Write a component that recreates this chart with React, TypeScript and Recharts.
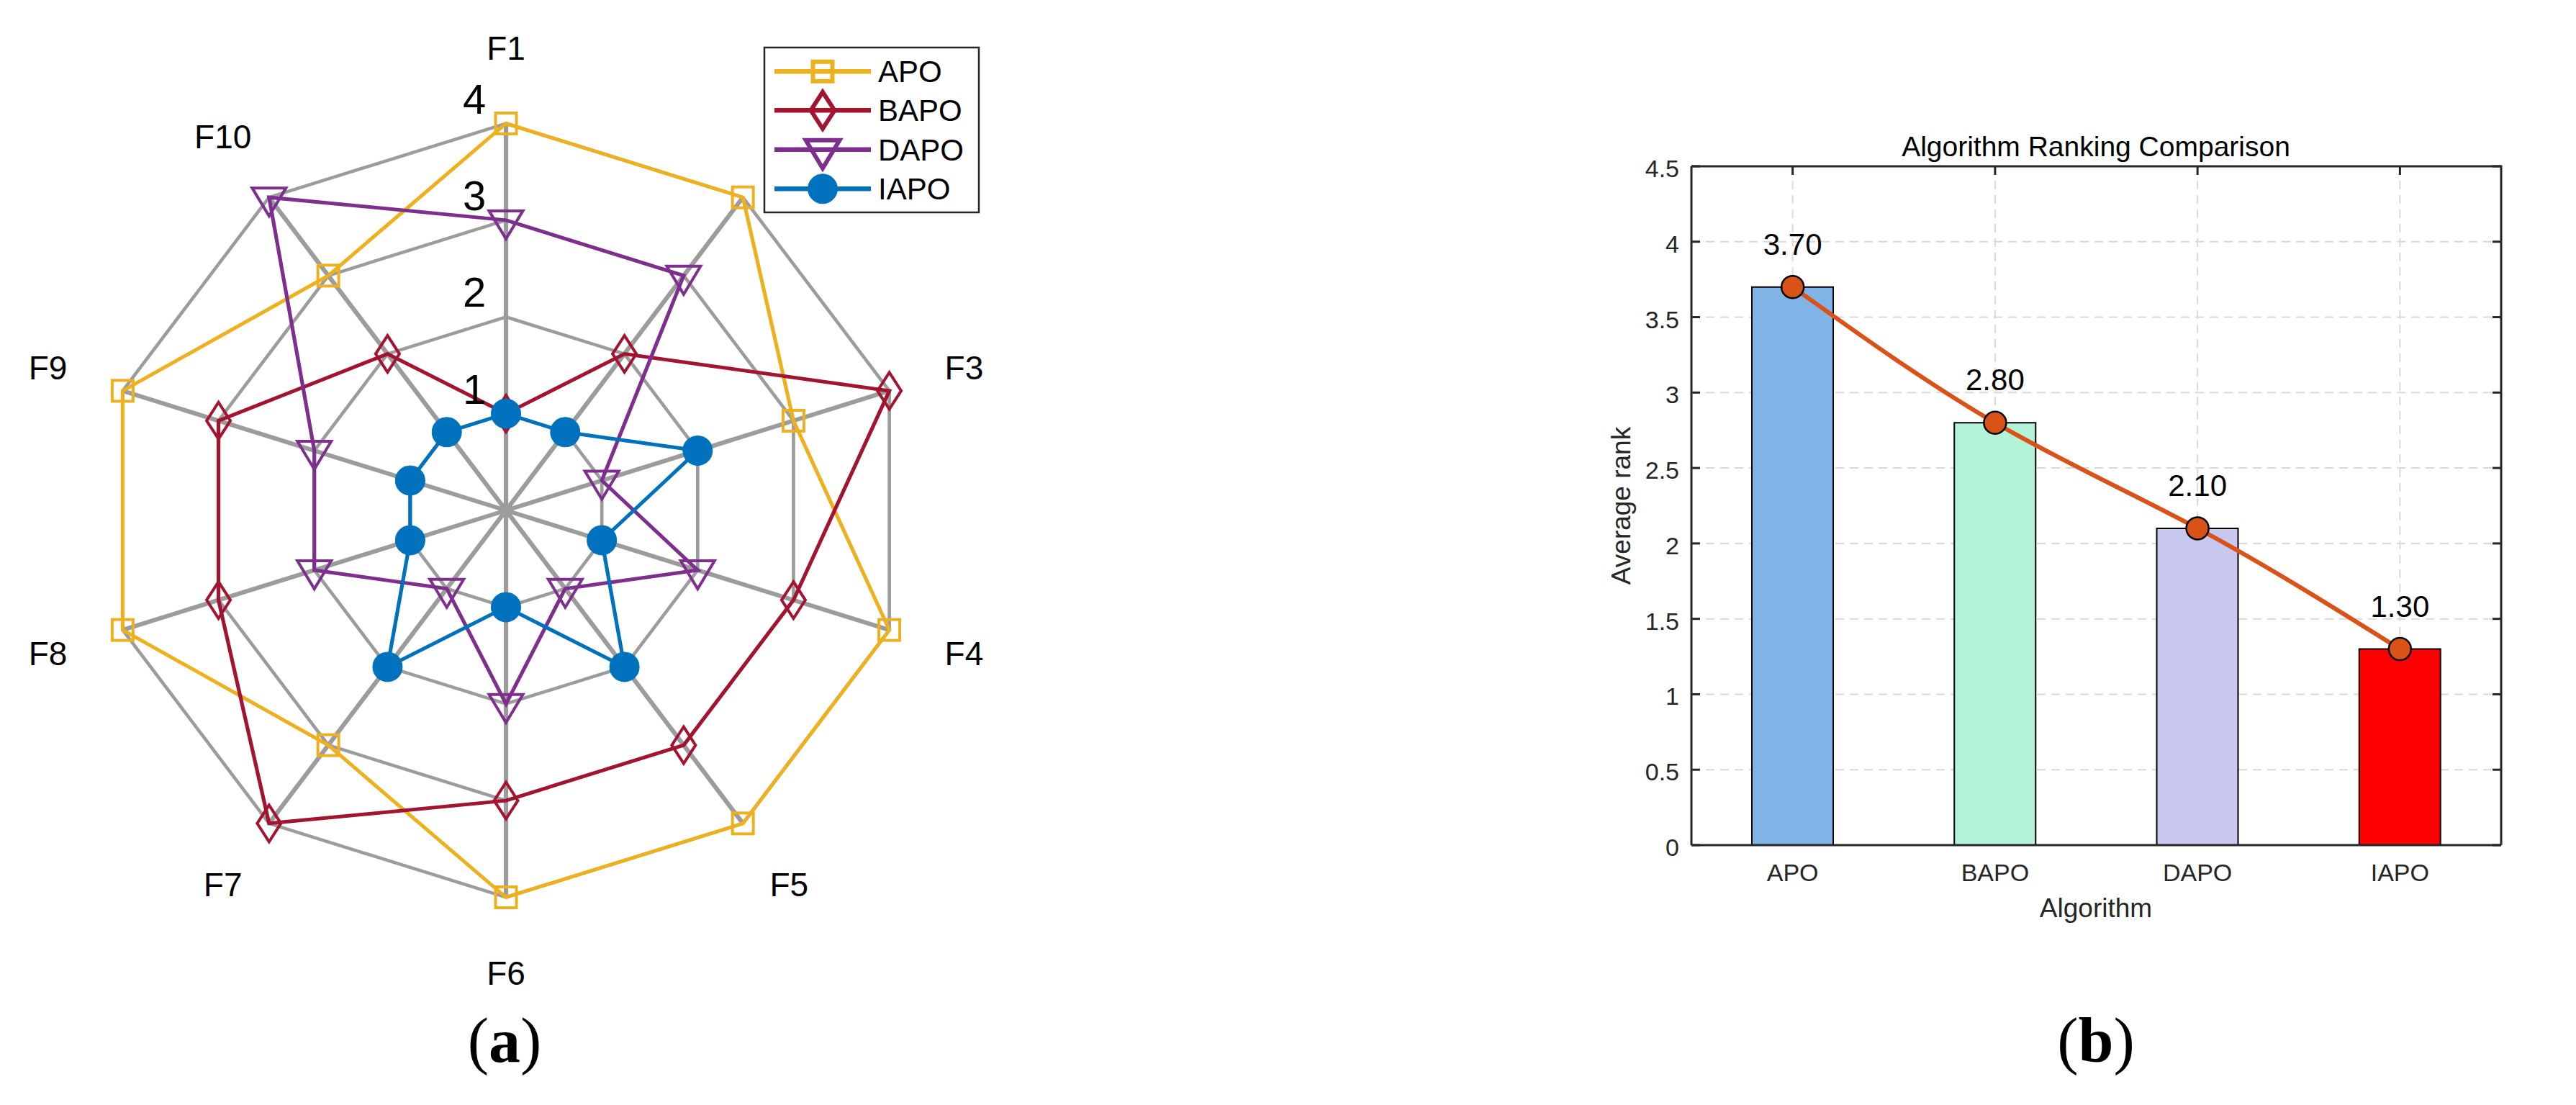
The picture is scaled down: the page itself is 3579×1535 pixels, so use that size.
import React from 'react';
import {
  RadarChart,
  PolarGrid,
  PolarAngleAxis,
  PolarRadiusAxis,
  Radar,
  ComposedChart,
  Bar,
  Line,
  XAxis,
  YAxis,
  CartesianGrid,
  Cell,
  LabelList,
} from 'recharts';

// ---------------- data ----------------
const FUNCTIONS = ['F1', 'F2', 'F3', 'F4', 'F5', 'F6', 'F7', 'F8', 'F9', 'F10'];
const APO_RANKS = [4, 4, 3, 4, 4, 4, 3, 4, 4, 3];
const BAPO_RANKS = [1, 2, 4, 3, 3, 3, 4, 3, 3, 2];
const DAPO_RANKS = [3, 3, 1, 2, 1, 2, 1, 2, 2, 4];
const IAPO_RANKS = [1, 1, 2, 1, 2, 1, 2, 1, 1, 1];
const SERIES_NAMES = ['APO', 'BAPO', 'DAPO', 'IAPO'];
const SERIES_COLORS = ['#EDB120', '#A2142F', '#7E2F8E', '#0072BD'];
const RADIUS_DOMAIN = [0, 4];

const ALGORITHMS = ['APO', 'BAPO', 'DAPO', 'IAPO'];
const AVERAGE_RANK = [3.7, 2.8, 2.1, 1.3];
const BAR_COLORS = ['#80B3E6', '#B3F3D9', '#C8C8EE', '#FF0000'];
const RANK_TICKS = [0, 0.5, 1, 1.5, 2, 2.5, 3, 3.5, 4, 4.5];

// ---------------- styling / layout ----------------
const FONT = '"Liberation Sans", Arial, Helvetica, sans-serif';
const SERIF = '"Liberation Serif", "Times New Roman", Times, serif';
const AX = '#262626';
const AXW = 3;
const GRID_GRAY = '#9c9c9c';

const RADAR_W = 1400;
const RCX = 700;
const RCY = 700;
const RR = 537.5;
const SX = 560 / 537.5; // horizontal stretch of the reference radar
const RADAR_LEFT = 703.3 - RCX;
const RADAR_TOP = 709.2 - RCY;

const BAR_LEFT = 2100;
const BAR_W = 1479;
const BAR_H = 1535;
const PX0 = 250; // plot left (chart coords)
const PX1 = 1375; // plot right
const PY0 = 231; // plot top
const PY1 = 1174; // plot bottom

type Kind = 'square' | 'diamond' | 'triangle' | 'circle';
const KINDS: Kind[] = ['square', 'diamond', 'triangle', 'circle'];

const radarSeries = SERIES_NAMES.map((name, i) => ({
  name,
  color: SERIES_COLORS[i],
  kind: KINDS[i],
  values: [APO_RANKS, BAPO_RANKS, DAPO_RANKS, IAPO_RANKS][i],
}));

const radarData = FUNCTIONS.map((f, i) => {
  const row: any = { axis: f };
  radarSeries.forEach((s) => {
    row[s.name] = s.values[i];
  });
  return row;
});

const barData = ALGORITHMS.map((name, i) => ({ name, rank: AVERAGE_RANK[i] }));

function MarkerShape({ kind, color, sw }: { kind: Kind; color: string; sw: number }) {
  if (kind === 'square') {
    const s = 33 - sw;
    return <rect x={-s / 2} y={-s / 2} width={s} height={s} fill="none" stroke={color} strokeWidth={sw} />;
  }
  if (kind === 'diamond') {
    return <path d="M0,-25.5L16.5,0L0,25.5L-16.5,0Z" fill="none" stroke={color} strokeWidth={sw} />;
  }
  if (kind === 'triangle') {
    return <path d="M-23.5,-13L23.5,-13L0,26Z" fill="none" stroke={color} strokeWidth={sw} />;
  }
  return <circle r={20.5} fill={color} stroke={color} strokeWidth={1} />;
}

const makeDot = (kind: Kind, color: string) => (p: any) => (
  <g key={`${kind}-${p.index}`} transform={`translate(${p.cx},${p.cy}) scale(${1 / SX},1)`}>
    <MarkerShape kind={kind} color={color} sw={4} />
  </g>
);

const AngleTick = (p: any) => {
  const v = String(p.payload.value);
  // The F2 label is hidden behind the legend box in the reference.
  if (v === 'F2') return <g />;
  const dx = p.x - RCX;
  const dy = p.y - RCY;
  const d = Math.hypot(dx, dy) || 1;
  const r = RR * 1.195;
  const x = RCX + (dx / d) * r;
  const y = RCY + (dy / d) * r;
  return (
    <text
      transform={`translate(${x},${y}) scale(${1 / SX},1)`}
      x={0}
      y={16.5}
      textAnchor="middle"
      fontSize={46}
      fontFamily={FONT}
      fill="#000"
    >
      {v}
    </text>
  );
};

const RadiusTick = (p: any) => {
  const v = p.payload.value;
  if (v === 0) return <g />;
  const x = RCX - 44 / SX;
  const y = p.y - 14;
  return (
    <text
      transform={`translate(${x},${y}) scale(${1 / SX},1)`}
      x={0}
      y={0}
      textAnchor="middle"
      fontSize={58}
      fontFamily={FONT}
      fill="#000"
    >
      {v}
    </text>
  );
};

// left axis tick: inward tick marks on both sides of the box + label
const LeftTick = (p: any) => {
  const y = p.y;
  return (
    <g>
      <line x1={PX0} x2={PX0 + 12} y1={y} y2={y} stroke={AX} strokeWidth={AXW} />
      <line x1={PX1} x2={PX1 - 12} y1={y} y2={y} stroke={AX} strokeWidth={AXW} />
      <text x={PX0 - 17} y={y + 15} textAnchor="end" fontSize={34} fontFamily={FONT} fill={AX}>
        {String(p.payload.value)}
      </text>
    </g>
  );
};

// bottom axis tick: label + inward tick mark on the top edge of the box
const BottomTick = (p: any) => (
  <g>
    <line x1={p.x} x2={p.x} y1={PY0} y2={PY0 + 12} stroke={AX} strokeWidth={AXW} />
    <text x={p.x} y={1224} textAnchor="middle" fontSize={34} fontFamily={FONT} fill={AX}>
      {String(p.payload.value)}
    </text>
  </g>
);

const ValueLabel = (p: any) => {
  if (p.x == null || p.y == null) return null;
  return (
    <text x={p.x} y={p.y - 45} textAnchor="middle" fontSize={42} fontFamily={FONT} fill="#000">
      {Number(p.value).toFixed(2)}
    </text>
  );
};

const lineDot = (p: any) => (
  <circle key={`ld-${p.index}`} cx={p.cx} cy={p.cy} r={15.5} fill="#D95319" stroke="#000" strokeWidth={2.5} />
);

function Legend() {
  const rows = [99.3, 153.3, 207.7, 262.3];
  return (
    <g>
      <rect x={1062} y={66} width={298} height={229} fill="#fff" stroke={AX} strokeWidth={2.5} />
      {radarSeries.map((s, i) => (
        <g key={s.name}>
          <line x1={1076} x2={1210} y1={rows[i]} y2={rows[i]} stroke={s.color} strokeWidth={6.5} />
          <g transform={`translate(${1143},${rows[i]})`}>
            <MarkerShape kind={s.kind} color={s.color} sw={6} />
          </g>
          <text x={1220} y={rows[i] + 15} fontSize={42} fontFamily={FONT} fill="#000">
            {s.name}
          </text>
        </g>
      ))}
    </g>
  );
}

export default function App() {
  return (
    <div style={{ position: 'absolute', left: 0, top: 0, width: 3579, height: 1535, background: '#fff', overflow: 'hidden' }}>
      {/* (a) radar */}
      <div
        style={{
          position: 'absolute',
          left: RADAR_LEFT,
          top: RADAR_TOP,
          width: RADAR_W,
          height: RADAR_W,
          transform: `scaleX(${SX})`,
          transformOrigin: `${RCX}px ${RCY}px`,
        }}
      >
        <RadarChart
          width={RADAR_W}
          height={RADAR_W}
          data={radarData}
          cx={RCX}
          cy={RCY}
          outerRadius={RR}
          startAngle={90}
          endAngle={-270}
          margin={{ top: 0, right: 0, bottom: 0, left: 0 }}
        >
          <PolarGrid gridType="polygon" radialLines={false} stroke={GRID_GRAY} strokeWidth={4.5} />
          <PolarGrid gridType="polygon" polarRadius={[]} stroke={GRID_GRAY} strokeWidth={6} />
          <PolarAngleAxis dataKey="axis" axisLine={false} tickLine={false} tick={AngleTick} />
          <PolarRadiusAxis
            angle={90}
            domain={RADIUS_DOMAIN}
            tickCount={5}
            type="number"
            axisLine={false}
            tick={RadiusTick}
          />
          {radarSeries.map((s) => (
            <Radar
              key={s.name}
              name={s.name}
              dataKey={s.name}
              stroke={s.color}
              strokeWidth={5}
              fill="none"
              fillOpacity={0}
              dot={makeDot(s.kind, s.color)}
              isAnimationActive={false}
            />
          ))}
        </RadarChart>
      </div>

      {/* (b) bar chart */}
      <div style={{ position: 'absolute', left: BAR_LEFT, top: 0, width: BAR_W, height: BAR_H }}>
        <ComposedChart
          width={BAR_W}
          height={BAR_H}
          data={barData}
          margin={{ top: PY0, right: BAR_W - PX1, bottom: BAR_H - PY1 - 60, left: PX0 - 100 }}
        >
          <CartesianGrid stroke="#d9d9d9" strokeWidth={2} strokeDasharray="12 8" />
          <XAxis
            dataKey="name"
            height={60}
            interval={0}
            axisLine={{ stroke: AX, strokeWidth: AXW }}
            tickLine={false}
            tick={BottomTick}
          />
          <YAxis
            type="number"
            domain={[0, 4.5]}
            ticks={RANK_TICKS}
            interval={0}
            width={100}
            axisLine={{ stroke: AX, strokeWidth: AXW }}
            tickLine={false}
            tick={LeftTick}
          />
          <Bar dataKey="rank" barSize={113} stroke="#000" strokeWidth={2} isAnimationActive={false}>
            {barData.map((d, i) => (
              <Cell key={d.name} fill={BAR_COLORS[i]} />
            ))}
          </Bar>
          <Line
            type="natural"
            dataKey="rank"
            stroke="#D95319"
            strokeWidth={6}
            dot={lineDot}
            isAnimationActive={false}
          >
            <LabelList dataKey="rank" content={ValueLabel} />
          </Line>
        </ComposedChart>
      </div>

      {/* legend, box edges, titles and panel labels */}
      <svg width={3579} height={1535} style={{ position: 'absolute', left: 0, top: 0, pointerEvents: 'none' }}>
        <Legend />
        <path
          d={`M${BAR_LEFT + PX0},${PY0}H${BAR_LEFT + PX1}V${PY1}`}
          fill="none"
          stroke={AX}
          strokeWidth={AXW}
        />
        <text x={2912} y={217} textAnchor="middle" fontSize={39} fontFamily={FONT} fill="#000">
          Algorithm Ranking Comparison
        </text>
        <text x={2912} y={1274} textAnchor="middle" fontSize={37} fontFamily={FONT} fill={AX}>
          Algorithm
        </text>
        <text
          transform={`translate(2265,702.5) rotate(-90)`}
          x={0}
          y={0}
          textAnchor="middle"
          fontSize={37}
          fontFamily={FONT}
          fill={AX}
        >
          Average rank
        </text>
        <text x={701} y={1475} textAnchor="middle" fontSize={88} fontFamily={SERIF} fill="#000">
          (<tspan fontWeight="bold">a</tspan>)
        </text>
        <text x={2912} y={1475} textAnchor="middle" fontSize={88} fontFamily={SERIF} fill="#000">
          (<tspan fontWeight="bold">b</tspan>)
        </text>
      </svg>
    </div>
  );
}
